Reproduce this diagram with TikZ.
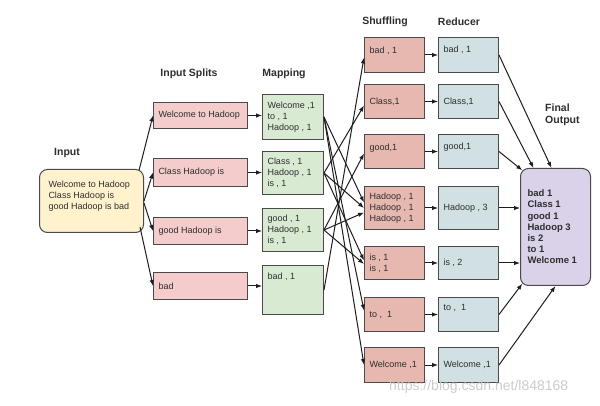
\documentclass[tikz,border=0pt]{standalone}
\usepackage{fontspec}
\setmainfont{Liberation Sans}
\usetikzlibrary{arrows.meta,calc}
\definecolor{edge}{HTML}{4A4A4A}
\definecolor{txt}{HTML}{2E2E2E}
\definecolor{arrc}{HTML}{1E1E1E}
\definecolor{inc}{HTML}{FFF2CC}
\definecolor{splitc}{HTML}{F4CCCC}
\definecolor{mapc}{HTML}{D9EAD3}
\definecolor{shufc}{HTML}{E6B8AF}
\definecolor{redc}{HTML}{D0E0E3}
\definecolor{finc}{HTML}{D9D2E9}
\newcommand\cellc[3]{\parbox[c][#2pt][c]{#1pt}{\raggedright\leftskip=5pt\relax #3}}
\newcommand\cellt[4]{\parbox[c][#2pt][t]{#1pt}{\vspace*{#3pt}\raggedright\leftskip=5pt\relax #4}}
\tikzset{
  box/.style={draw=edge, line width=1pt, inner sep=0pt, anchor=north west,
    font=\fontsize{9}{11}\selectfont, text=txt},
  splitbox/.style={box, fill=splitc},
  mapbox/.style={box, fill=mapc},
  shufbox/.style={box, fill=shufc},
  redbox/.style={box, fill=redc},
  inbox/.style={box, fill=inc, rounded corners=8pt},
  finbox/.style={box, fill=finc, rounded corners=8pt, font=\bfseries\fontsize{9.5}{11.2}\selectfont},
  lab/.style={font=\bfseries\fontsize{10.5}{12}\selectfont, text=txt, inner sep=0pt},
  arr/.style={draw=arrc, line width=1pt, -{Latex[length=6pt,width=4.5pt]}},
}
\begin{document}
\begin{tikzpicture}[x=1pt,y=-1pt]
\useasboundingbox[fill=white] (0,0) rectangle (600,406);

% labels
\node[lab] (linput) at (67,153) {Input};
\node[lab] (lsplit) at (189,74) {Input Splits};
\node[lab] (lmap) at (284,74) {Mapping};
\node[lab] (lshuf) at (385,22) {Shuffling};
\node[lab] (lred) at (459,22) {Reducer};
\node[lab, anchor=west, align=left] (lfin) at (545,115) {Final\\Output};

% input
\node[inbox] (in) at (39,169) {\parbox[c][63pt][t]{104pt}{\vspace*{11pt}\raggedright\leftskip=9pt\relax Welcome to Hadoop\\Class Hadoop is\\good Hadoop is bad}};

% splits
\node[splitbox] (sp1) at (153,102) {\cellc{94}{26}{Welcome to Hadoop}};
\node[splitbox] (sp2) at (153,158) {\cellc{94}{28}{Class Hadoop is}};
\node[splitbox] (sp3) at (153,217) {\cellc{94}{27}{good Hadoop is}};
\node[splitbox] (sp4) at (153,272) {\cellc{94}{27}{bad}};

% mapping
\node[mapbox] (mp1) at (262,94) {\cellc{61}{45}{Welcome ,1\\to , 1\\Hadoop , 1}};
\node[mapbox] (mp2) at (262,151) {\cellc{61}{43}{Class , 1\\Hadoop , 1\\is , 1}};
\node[mapbox] (mp3) at (262,208) {\cellc{61}{43}{good , 1\\Hadoop , 1\\is , 1}};
\node[mapbox] (mp4) at (262,265) {\cellt{61}{49}{7}{bad , 1}};

% shuffling
\node[shufbox] (sh1) at (364,37) {\cellt{60}{35}{9}{bad , 1}};
\node[shufbox] (sh2) at (364,84) {\cellc{60}{34}{Class,1}};
\node[shufbox] (sh3) at (364,134) {\cellt{60}{34}{9}{good,1}};
\node[shufbox] (sh4) at (364,186) {\cellc{60}{43}{Hadoop , 1\\Hadoop , 1\\Hadoop , 1}};
\node[shufbox] (sh5) at (364,246) {\cellc{60}{33}{is , 1\\is , 1}};
\node[shufbox] (sh6) at (364,297) {\cellc{60}{34}{to ,\ \ 1}};
\node[shufbox] (sh7) at (364,347) {\cellc{60}{35}{Welcome ,1}};

% reducer
\node[redbox] (rd1) at (438,37) {\cellt{60}{35}{8}{bad , 1}};
\node[redbox] (rd2) at (438,84) {\cellc{60}{34}{Class,1}};
\node[redbox] (rd3) at (438,134) {\cellt{60}{34}{8}{good,1}};
\node[redbox] (rd4) at (438,186) {\cellc{60}{43}{Hadoop , 3}};
\node[redbox] (rd5) at (438,246) {\cellc{60}{33}{is , 2}};
\node[redbox] (rd6) at (438,297) {\cellt{60}{34}{7}{to ,\ \ 1}};
\node[redbox] (rd7) at (438,347) {\cellc{60}{35}{Welcome ,1}};

% final output
\node[finbox] (fo) at (520,168) {\parbox[c][117pt][c]{70pt}{\raggedright\leftskip=7pt\relax bad 1\\Class 1\\good 1\\Hadoop 3\\is 2\\to 1\\Welcome 1}};

% input -> splits
\draw[arr] ([xshift=-5pt,yshift=-1.5pt]in.north east) -- (sp1.west);
\draw[arr] (in.east) -- (sp2.west);
\draw[arr] ([yshift=-2pt]in.east) -- (sp3.west);
\draw[arr] ([xshift=-4pt,yshift=6pt]in.south east) -- (sp4.west);

% splits -> mapping
\draw[arr] (sp1.east) -- (sp1.east -| mp1.west);
\draw[arr] (sp2.east) -- (sp2.east -| mp2.west);
\draw[arr] (sp3.east) -- (sp3.east -| mp3.west);
\draw[arr] (sp4.east) -- (sp4.east -| mp4.west);

% mapping -> shuffling
\draw[arr] (mp1.east) -- ([yshift=5.5pt]sh4.west);
\draw[arr] (mp1.east) -- ([yshift=4pt]sh6.west);
\draw[arr] (mp1.east) -- (sh7.west);
\draw[arr] (mp2.east) -- ([yshift=-4pt]sh2.west);
\draw[arr] (mp2.east) -- (sh4.west);
\draw[arr] (mp2.east) -- ([yshift=2.5pt]sh5.west);
\draw[arr] (mp3.east) -- ([yshift=-2pt]sh3.west);
\draw[arr] (mp3.east) -- ([yshift=-4.5pt]sh4.west);
\draw[arr] (mp3.east) -- ([yshift=-1pt]sh5.west);
\draw[arr] (mp4.east) -- ([yshift=-2.5pt]sh1.west);

% shuffling -> reducer
\draw[arr] (sh1.east) -- (rd1.west);
\draw[arr] (sh2.east) -- (rd2.west);
\draw[arr] (sh3.east) -- (rd3.west);
\draw[arr] (sh4.east) -- (rd4.west);
\draw[arr] (sh5.east) -- (rd5.west);
\draw[arr] (sh6.east) -- (rd6.west);
\draw[arr] (sh7.east) -- (rd7.west);

% reducer -> final
\draw[arr] (rd1.east) -- ([xshift=-4pt]fo.north);
\draw[arr] (rd2.east) -- ([xshift=-22pt]fo.north);
\draw[arr] (rd3.east) -- ([xshift=2.3pt,yshift=-2.3pt]fo.north west);
\draw[arr] (rd4.east) -- (rd4.east -| fo.west);
\draw[arr] (rd5.east) -- (rd5.east -| fo.west);
\draw[arr] (rd6.east) -- ([xshift=2.3pt,yshift=2.3pt]fo.south west);
\draw[arr] (rd7.east) -- (fo.south);

% watermark
\node[anchor=west, text=gray!40, font=\fontsize{14}{16}\selectfont, inner sep=0pt] (wm) at (389,387) {https://blog.csdn.net/l848168};
\end{tikzpicture}
\end{document}
